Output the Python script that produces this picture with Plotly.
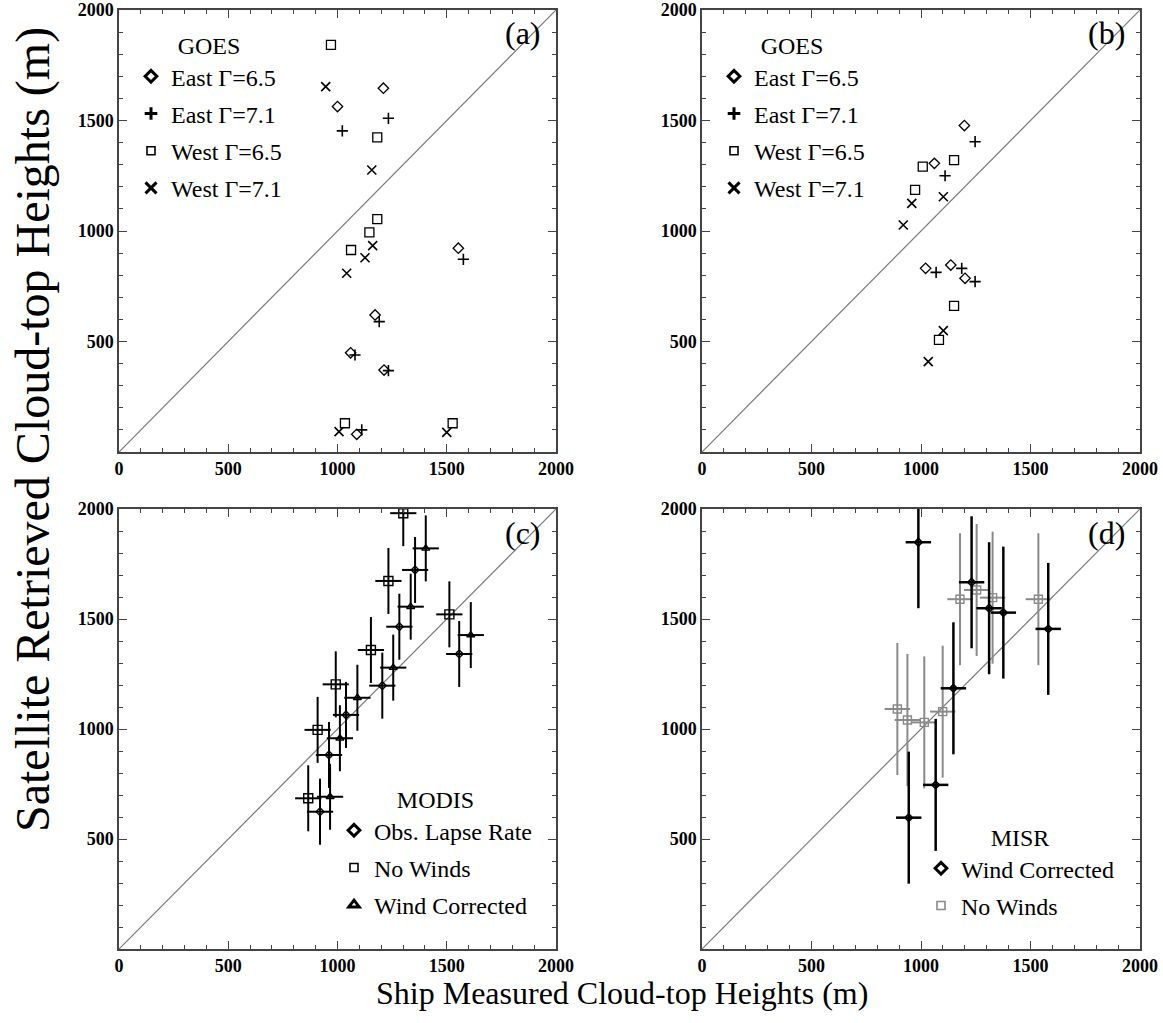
import plotly.graph_objects as go

# ---------------- data ----------------
diag = [0, 2000]

# Panel (a) GOES
a_e65_x = [1210, 1000, 1553, 1172, 1060, 1213, 1088]
a_e65_y = [1646, 1563, 922, 620, 449, 371, 80]
a_e71_x = [1233, 1022, 1576, 1191, 1080, 1233, 1111]
a_e71_y = [1510, 1453, 872, 590, 439, 368, 100]
a_w65_x = [970, 1182, 1182, 1146, 1062, 1034, 1527]
a_w65_y = [1842, 1424, 1054, 994, 914, 130, 130]
a_w71_x = [946, 1157, 1161, 1126, 1042, 1007, 1500]
a_w71_y = [1653, 1276, 934, 879, 809, 92, 89]

# Panel (b) GOES
b_e65_x = [1198, 1061, 1021, 1136, 1201]
b_e65_y = [1477, 1306, 831, 846, 786]
b_e71_x = [1247, 1110, 1069, 1186, 1247]
b_e71_y = [1404, 1250, 813, 831, 771]
b_w65_x = [1008, 1151, 973, 1151, 1082]
b_w65_y = [1291, 1321, 1186, 661, 507]
b_w71_x = [958, 1102, 919, 1102, 1033]
b_w71_y = [1125, 1155, 1027, 549, 409]

# Panel (c) MODIS
c_obs_x = [1355, 1283, 1557, 1205, 1039, 961, 920]
c_obs_y = [1723, 1465, 1341, 1197, 1064, 882, 624]
c_nw_x = [1301, 1233, 1512, 1153, 992, 909, 866]
c_nw_y = [1981, 1673, 1521, 1359, 1203, 996, 685]
c_wc_x = [1404, 1335, 1610, 1255, 1091, 1011, 966]
c_wc_y = [1821, 1556, 1427, 1279, 1142, 958, 692]
c_xerr = 60
c_yerr = 150

# Panel (d) MISR
d_wc_x = [988, 1231, 1311, 1376, 1581, 1148, 1067, 944]
d_wc_y = [1849, 1667, 1549, 1529, 1455, 1185, 746, 597]
d_nw_x = [1178, 1254, 1327, 1536, 892, 938, 1015, 1099]
d_nw_y = [1590, 1632, 1597, 1590, 1091, 1041, 1030, 1079]
d_xerr = 58
d_yerr = 300

W, H = 1163, 1023
SERIF = "Liberation Serif, Times New Roman, serif"
TICKFONT = dict(family=SERIF, size=18, color="black", weight="bold")
AX = "#444444"
GRAY = "#8a8a8a"

fig = go.Figure()

def sc(x, y, xa, ya, symbol, size, lw, color="black", ex=None, ey=None, ecol="black", eth=2):
    kw = {}
    if ex is not None:
        kw["error_x"] = dict(type="constant", value=ex, color=ecol, thickness=eth, width=0)
        kw["error_y"] = dict(type="constant", value=ey, color=ecol, thickness=eth, width=0)
    fig.add_trace(go.Scatter(
        x=x, y=y, xaxis=xa, yaxis=ya, mode="markers", showlegend=False,
        marker=dict(symbol=symbol, size=size, color=color,
                    line=dict(width=lw, color=color)), **kw))

def diagline(xa, ya):
    fig.add_trace(go.Scatter(x=diag, y=diag, xaxis=xa, yaxis=ya, mode="lines",
                             line=dict(color="#7a7a7a", width=1.2), showlegend=False,
                             hoverinfo="skip"))

def legitem(name, legend, symbol, size, lw, color="black", group=None):
    fig.add_trace(go.Scatter(
        x=[None], y=[None], mode="markers", name=name, legend=legend,
        legendgroup=group or name, showlegend=True,
        marker=dict(symbol=symbol, size=size, color=color,
                    line=dict(width=lw, color=color))))

# (a)
diagline("x", "y")
sc(a_e65_x, a_e65_y, "x", "y", "diamond-open", 8, 1.3)
sc(a_e71_x, a_e71_y, "x", "y", "cross-thin-open", 8, 1.6)
sc(a_w65_x, a_w65_y, "x", "y", "square-open", 9, 1.3)
sc(a_w71_x, a_w71_y, "x", "y", "x-thin-open", 9, 1.6)
# (b)
diagline("x2", "y2")
sc(b_e65_x, b_e65_y, "x2", "y2", "diamond-open", 8, 1.3)
sc(b_e71_x, b_e71_y, "x2", "y2", "cross-thin-open", 8, 1.6)
sc(b_w65_x, b_w65_y, "x2", "y2", "square-open", 9, 1.3)
sc(b_w71_x, b_w71_y, "x2", "y2", "x-thin-open", 9, 1.6)
# (c)
diagline("x3", "y3")
sc(c_nw_x, c_nw_y, "x3", "y3", "square-open", 9, 1.4, ex=c_xerr, ey=c_yerr, eth=2)
sc(c_wc_x, c_wc_y, "x3", "y3", "triangle-up-open", 7, 1.4, ex=c_xerr, ey=c_yerr, eth=2)
sc(c_obs_x, c_obs_y, "x3", "y3", "diamond-open", 6, 1.4, ex=c_xerr, ey=c_yerr, eth=2)
# (d)
diagline("x4", "y4")
sc(d_nw_x, d_nw_y, "x4", "y4", "square-open", 8, 1.4, color=GRAY, ex=d_xerr, ey=d_yerr, ecol=GRAY, eth=2)
sc(d_wc_x, d_wc_y, "x4", "y4", "diamond-open", 6, 1.5, ex=d_xerr, ey=d_yerr, eth=2.5)

# legends
for lg in ("legend", "legend2"):
    legitem("East Γ=6.5", lg, "diamond-open", 9, 3, group=lg + "a")
    legitem("East Γ=7.1", lg, "cross-thin-open", 9, 3, group=lg + "b")
    legitem("West Γ=6.5", lg, "square-open", 8, 1.6, group=lg + "c")
    legitem("West Γ=7.1", lg, "x-thin-open", 11, 3, group=lg + "d")
legitem("Obs. Lapse Rate", "legend3", "diamond-open", 9, 3, group="c1")
legitem("No Winds", "legend3", "square-open", 8, 1.6, group="c2")
legitem("Wind Corrected", "legend3", "triangle-up-open", 9, 3, group="c3")
legitem("Wind Corrected", "legend4", "diamond-open", 9, 3, group="d1")
legitem("No Winds", "legend4", "square-open", 8, 1.6, color=GRAY, group="d2")

def legend_cfg(title, xl, yt):
    return dict(title=dict(text=title, side="top center", font=dict(family=SERIF, size=24, color="black")),
                x=xl / W, y=1 - yt / H, xanchor="left", yanchor="top",
                font=dict(family=SERIF, size=24, color="black"),
                bgcolor="rgba(0,0,0,0)", borderwidth=0, tracegroupgap=3,
                itemsizing="trace")

xdomL = [119 / W, 556 / W]
xdomR = [702 / W, 1140 / W]
ydomT = [1 - 452 / H, 1 - 10 / H]
ydomB = [1 - 949 / H, 1 - 509 / H]

def xax(dom, anchor):
    return dict(domain=dom, anchor=anchor, range=[0, 2000], tickvals=[0, 500, 1000, 1500, 2000],
                automargin=False,
                ticks="inside", ticklen=8, tickwidth=1.3, tickcolor=AX, mirror="ticks",
                showline=True, linecolor=AX, linewidth=1.5, showgrid=False, zeroline=False,
                tickfont=TICKFONT, minor=dict(dtick=100, ticks="inside", ticklen=4, tickcolor=AX, tickwidth=1.1, showgrid=False))

def yax(dom, anchor):
    return dict(domain=dom, anchor=anchor, range=[0, 2000], tickvals=[500, 1000, 1500, 2000],
                automargin=False,
                ticks="inside", ticklen=8, tickwidth=1.3, tickcolor=AX, mirror="ticks",
                showline=True, linecolor=AX, linewidth=1.5, showgrid=False, zeroline=False,
                tickfont=TICKFONT, minor=dict(dtick=100, ticks="inside", ticklen=4, tickcolor=AX, tickwidth=1.1, showgrid=False))

annots = []
for lab, xr, yr in [("(a)", 523, 33), ("(b)", 1106, 33), ("(c)", 523, 533), ("(d)", 1106, 533)]:
    annots.append(dict(text=lab, x=xr / W, y=1 - yr / H, xref="paper", yref="paper",
                       xanchor="center", yanchor="middle",
                       showarrow=False, font=dict(family=SERIF, size=32, color="black")))
annots.append(dict(text="Ship Measured Cloud-top Heights (m)", x=622 / W, y=1 - 993 / H,
                   xref="paper", yref="paper", showarrow=False,
                   xanchor="center", yanchor="middle",
                   font=dict(family=SERIF, size=32, color="black")))
annots.append(dict(text="Satellite Retrieved Cloud-top Heights (m)", x=33 / W, y=1 - 430 / H,
                   xref="paper", yref="paper", showarrow=False, textangle=-90,
                   xanchor="center", yanchor="middle",
                   font=dict(family=SERIF, size=48, color="black")))

fig.update_layout(
    width=W, height=H, margin=dict(l=0, r=0, t=0, b=0, autoexpand=False),
    plot_bgcolor="white", paper_bgcolor="white",
    xaxis=xax(xdomL, "y"), yaxis=yax(ydomT, "x"),
    xaxis2=xax(xdomR, "y2"), yaxis2=yax(ydomT, "x2"),
    xaxis3=xax(xdomL, "y3"), yaxis3=yax(ydomB, "x3"),
    xaxis4=xax(xdomR, "y4"), yaxis4=yax(ydomB, "x4"),
    legend=legend_cfg("GOES", 131, 23),
    legend2=legend_cfg("GOES", 714, 23),
    legend3=legend_cfg("MODIS", 334, 777),
    legend4=legend_cfg("MISR", 921, 815),
    annotations=annots,
)

fig.write_html("out.html", post_script="document.body.style.margin='0';",
               config={"displayModeBar": False})
